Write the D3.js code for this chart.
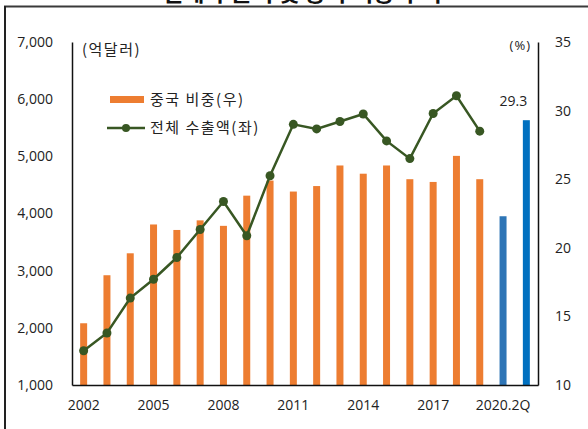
<!DOCTYPE html>
<html>
<head>
<meta charset="utf-8">
<script src="https://cdn.jsdelivr.net/npm/d3@7"></script>
<style>
  body { margin: 0; background: #fff; }
  svg { display: block; font-family: "Noto Sans CJK KR", "Noto Sans", sans-serif; }
</style>
</head>
<body>
<svg width="588" height="429"></svg>
<script>
const width = 588;
const height = 429;

// categories (x)
const categories = ["2002", "2003", "2004", "2005", "2006", "2007", "2008", "2009", "2010",
    "2011", "2012", "2013", "2014", "2015", "2016", "2017", "2018", "2019", "2020.1Q", "2020.2Q"];
const tickCats = ["2002", "2005", "2008", "2011", "2014", "2017", "2020.1Q"];
const tickLabels = ["2002", "2005", "2008", "2011", "2014", "2017", "2020.2Q"];

// 전체 수출액 (억달러, left axis) - only yearly values
const exportValues = [1600, 1910, 2520, 2850, 3230, 3720, 4210, 3610, 4660,
    5560, 5480, 5610, 5740, 5270, 4960, 5750, 6060, 5440];

// 중국 비중 (%, right axis)
const shareValues = [14.5, 18.0, 19.6, 21.7, 21.3, 22.0, 21.6, 23.8, 24.9,
    24.1, 24.5, 26.0, 25.4, 26.0, 25.0, 24.8, 26.7, 25.0, 22.3, 29.3];

const leftTicks = [1000, 2000, 3000, 4000, 5000, 6000, 7000];
const rightTicks = [10, 15, 20, 25, 30, 35];

const plotLeft = 72, plotRight = 538, plotTop = 42, plotBottom = 385;
const numFont = "'Open Sans', 'Noto Sans', sans-serif";

const svg = d3.select("svg");

// frame + cropped title
svg.append("line")
    .attr("x1", 4).attr("x2", 588).attr("y1", 6.5).attr("y2", 6.5)
    .attr("stroke", "#3a3a3a").attr("stroke-width", 2);
svg.append("line")
    .attr("x1", 5).attr("x2", 5).attr("y1", 6).attr("y2", height)
    .attr("stroke", "#222").attr("stroke-width", 2);

svg.append("text")
    .attr("x", 302)
    .attr("y", 1)
    .attr("text-anchor", "middle")
    .style("font-size", "23px")
    .style("font-weight", 700)
    .attr("fill", "#111")
    .text("전체 수출액 및 중국 비중 추이");

const x = d3.scaleBand()
    .domain(categories)
    .range([plotLeft, plotRight])
    .paddingInner(0.7)
    .paddingOuter(0.35);

const yL = d3.scaleLinear().domain([1000, 7000]).range([plotBottom, plotTop]);
const yR = d3.scaleLinear().domain([10, 35]).range([plotBottom, plotTop]);

// bars
svg.append("g")
    .selectAll("rect")
    .data(shareValues)
    .join("rect")
    .attr("x", (d, i) => x(categories[i]))
    .attr("width", x.bandwidth())
    .attr("y", d => yR(d))
    .attr("height", d => plotBottom - yR(d))
    .attr("fill", (d, i) => i < 18 ? "#ed7d31" : (i === 18 ? "#2e75b6" : "#0070c0"));

// last value label
svg.append("text")
    .attr("x", x(categories[19]) + x.bandwidth() / 2 - 13)
    .attr("y", yR(shareValues[19]) - 14)
    .attr("text-anchor", "middle")
    .style("font-family", numFont)
    .style("font-size", "14px")
    .attr("fill", "#222")
    .text(shareValues[19].toFixed(1));

// line
const lineColor = "#385723";
const line = d3.line()
    .x((d, i) => x(categories[i]) + x.bandwidth() / 2)
    .y(d => yL(d));

svg.append("path")
    .datum(exportValues)
    .attr("d", line)
    .attr("fill", "none")
    .attr("stroke", lineColor)
    .attr("stroke-width", 2.5);

svg.append("g")
    .selectAll("circle")
    .data(exportValues)
    .join("circle")
    .attr("cx", (d, i) => x(categories[i]) + x.bandwidth() / 2)
    .attr("cy", d => yL(d))
    .attr("r", 4.5)
    .attr("fill", lineColor);

// axes
const axisL = svg.append("g")
    .attr("transform", `translate(${plotLeft},0)`)
    .call(d3.axisLeft(yL).tickValues(leftTicks).tickSize(0).tickSizeOuter(0).tickPadding(19).tickFormat(d3.format(",")));

const axisR = svg.append("g")
    .attr("transform", `translate(${plotRight},0)`)
    .call(d3.axisRight(yR).tickValues(rightTicks).tickSize(0).tickSizeOuter(0).tickPadding(17));

const axisB = svg.append("g")
    .attr("transform", `translate(0,${plotBottom})`)
    .call(d3.axisBottom(x).tickValues(tickCats).tickSize(0).tickSizeOuter(0).tickPadding(15)
        .tickFormat((d, i) => tickLabels[i]));

[axisL, axisR, axisB].forEach(a => {
    a.select(".domain").attr("stroke", "#111").attr("stroke-width", 1.5);
    a.selectAll("text")
        .style("font-family", numFont)
        .style("font-size", "14px")
        .attr("fill", "#222");
});

// units
svg.append("text")
    .attr("x", 82).attr("y", 55)
    .style("font-size", "15px")
    .style("letter-spacing", "1.5px")
    .attr("fill", "#222")
    .text("(억달러)");

svg.append("text")
    .attr("x", 531).attr("y", 50)
    .attr("text-anchor", "end")
    .style("font-family", numFont)
    .style("font-size", "13px")
    .style("letter-spacing", "1px")
    .attr("fill", "#222")
    .text("(%)");

// legend
const legend = svg.append("g");

legend.append("rect")
    .attr("x", 110).attr("y", 96)
    .attr("width", 34).attr("height", 7)
    .attr("fill", "#ed7d31");

legend.append("text")
    .attr("x", 150).attr("y", 105)
    .style("font-size", "15px")
    .style("letter-spacing", "1.5px")
    .attr("fill", "#222")
    .text("중국 비중(우)");

legend.append("line")
    .attr("x1", 107).attr("x2", 145)
    .attr("y1", 128).attr("y2", 128)
    .attr("stroke", lineColor).attr("stroke-width", 2.5);

legend.append("circle")
    .attr("cx", 126).attr("cy", 128).attr("r", 4)
    .attr("fill", lineColor);

legend.append("text")
    .attr("x", 150).attr("y", 133)
    .style("font-size", "15px")
    .style("letter-spacing", "1.5px")
    .attr("fill", "#222")
    .text("전체 수출액(좌)");
</script>
</body>
</html>
